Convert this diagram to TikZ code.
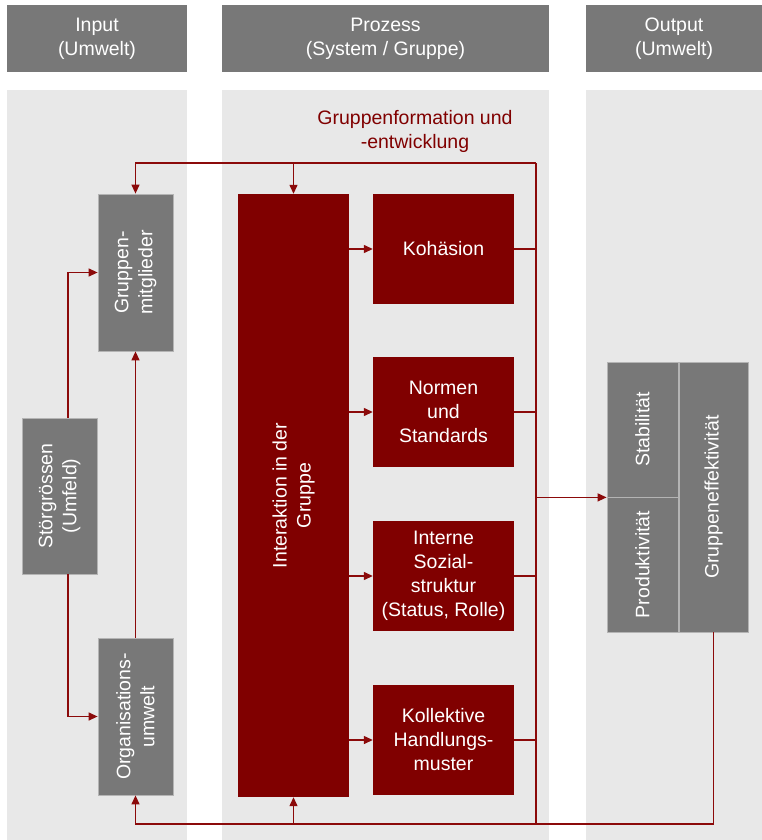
\documentclass[tikz,border=0pt]{standalone}
\usepackage{fontspec}
\setmainfont{Liberation Sans}
\usepackage{xcolor}
\usepackage{tikz}
\usetikzlibrary{arrows.meta}
\definecolor{colbg}{HTML}{E8E8E8}
\definecolor{head}{HTML}{787878}
\definecolor{hborder}{HTML}{B4B4B4}
\definecolor{dred}{HTML}{800000}
\definecolor{wire}{HTML}{8B0A0A}
\tikzset{
  headbox/.style={fill=head, draw=none, text=white, align=center, minimum height=67pt, inner sep=0pt},
  column/.style={fill=colbg, draw=none},
  graybox/.style={fill=head, draw=hborder, line width=0.8pt, inner sep=0pt},
  redbox/.style={fill=dred, draw=none, text=white, align=center, minimum width=141pt, minimum height=110pt, inner sep=0pt},
  vlab/.style={rotate=90, text=white, align=center, inner sep=0pt},
  conn/.style={draw=wire, line width=1.3pt},
  arr/.style={conn, -{Triangle[length=9pt,width=8pt]}},
  lab/.style={text=dred, align=center}
}

\begin{document}
\begin{tikzpicture}[x=1pt, y=-1pt, font=\fontsize{19.5}{24}\selectfont]
  \useasboundingbox[fill=white] (0,0) rectangle (762,840);

  % columns and their headings
  \fill[column] (7,90) rectangle (187,840);
  \fill[column] (222,90) rectangle (549,840);
  \fill[column] (586,90) rectangle (762,840);
  \node[headbox, minimum width=180pt] (hin) at (97,38.5) {Input\\(Umwelt)};
  \node[headbox, minimum width=327pt] (hpro) at (385.5,38.5) {Prozess\\(System / Gruppe)};
  \node[headbox, minimum width=176pt] (hout) at (674,38.5) {Output\\(Umwelt)};

  % input side
  \node[graybox, minimum width=75pt, minimum height=157pt] (mitglieder) at (135.5,272.5) {};
  \node[vlab] (mitgliederT) at (mitglieder) {Gruppen-\\mitglieder};
  \node[graybox, minimum width=75pt, minimum height=156pt] (stoer) at (59.5,496) {};
  \node[vlab] (stoerT) at (stoer) {Störgrössen\\(Umfeld)};
  \node[graybox, minimum width=75pt, minimum height=157pt] (orga) at (135.5,716.5) {};
  \node[vlab] (orgaT) at (orga) {Organisations-\\umwelt};

  % process
  \node[lab] (formation) at (415,131) {Gruppenformation und\\-entwicklung};
  \node[fill=dred, minimum width=111pt, minimum height=603pt, inner sep=0pt] (interaktion) at (293.5,495.5) {};
  \node[vlab] (interaktionT) at (interaktion) {Interaktion in der\\Gruppe};
  \node[redbox] (kohaesion) at (443.5,249) {Kohäsion};
  \node[redbox] (normen) at (443.5,412) {Normen\\und\\Standards};
  \node[redbox] (sozial) at (443.5,576) {Interne\\Sozial-\\struktur\\(Status, Rolle)};
  \node[redbox] (handlung) at (443.5,740) {Kollektive\\Handlungs-\\muster};

  % output
  \node[graybox, minimum width=71pt, minimum height=135pt] (stab) at (642.5,429.5) {};
  \node[vlab] (stabT) at (stab) {Stabilität};
  \node[graybox, minimum width=71pt, minimum height=135pt] (prod) at (642.5,564.5) {};
  \node[vlab] (prodT) at (prod) {Produktivität};
  \node[graybox, minimum width=69pt, minimum height=270pt] (effekt) at (713.5,497) {};
  \node[vlab] (effektT) at (effekt) {Gruppeneffektivität};

  % feedback loop
  \coordinate (rtop) at (536,163);
  \coordinate (rbot) at (536,824);
  \draw[conn] (rtop) -- (rbot);
  \draw[arr] (rtop) -- (mitglieder.north |- rtop) -- (mitglieder.north);
  \draw[arr] (interaktion.north |- rtop) -- (interaktion.north);
  \draw[arr] (effekt.south) -- (effekt.south |- rbot) -- (orga.south |- rbot) -- (orga.south);
  \draw[arr] (interaktion.south |- rbot) -- (interaktion.south);

  \foreach \b in {kohaesion,normen,sozial,handlung} {
    \draw[arr] (interaktion.east |- \b.west) -- (\b.west);
    \draw[conn] (\b.east) -- (\b.east -| rtop);
  }
  \draw[arr] (rtop |- stab.south west) -- (stab.south west);

  % Störgrössen into the input boxes
  \draw[arr] ([xshift=8.5pt]stoer.north) |- (mitglieder.west);
  \draw[arr] ([xshift=8.5pt]stoer.south) |- (orga.west);
  \draw[arr] (orga.north) -- (mitglieder.south);
\end{tikzpicture}
\end{document}
